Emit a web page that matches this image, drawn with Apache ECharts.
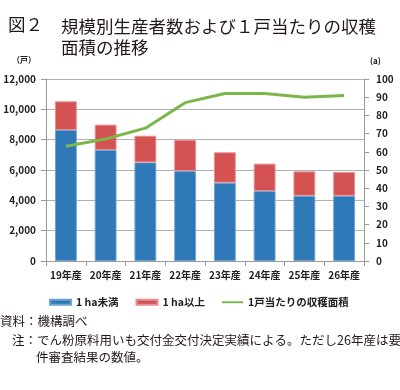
<!DOCTYPE html>
<html><head><meta charset="utf-8">
<script src="https://cdn.jsdelivr.net/npm/echarts@6/dist/echarts.min.js"></script>
<style>html,body{margin:0;padding:0;background:#fff}#c{width:400px;height:390px}</style>
</head><body><div id="c"></div>
<script>
var categories = ['19年産','20年産','21年産','22年産','23年産','24年産','25年産','26年産'];
var under1ha = [8640, 7320, 6500, 5930, 5160, 4610, 4300, 4300];
var over1ha = [1890, 1670, 1760, 2050, 2010, 1810, 1610, 1570];
var areaPerFarm = [63, 67, 73, 87, 92, 92, 90, 91];
var seriesNames = ['1 ha未満', '1 ha以上', '1戸当たりの収穫面積'];

var FONT = '"Noto Sans CJK JP", "Noto Sans", sans-serif';
var chart = echarts.init(document.getElementById('c'), null, {renderer: 'canvas'});
var axisColor = '#9a9a9a';
var labelStyle = {color: '#222', fontSize: 10, fontWeight: 'bold', fontFamily: FONT};
chart.setOption({
  animation: false,
  textStyle: {fontFamily: FONT},
  title: [
    {text: '図２', left: 3, top: 11, textStyle: {fontSize: 17.5, fontWeight: 'normal', color: '#231815', fontFamily: FONT}},
    {text: '規模別生産者数および１戸当たりの収穫\n面積の推移', left: 56, top: 11,
     textStyle: {fontSize: 17.5, fontWeight: 'normal', color: '#231815', lineHeight: 21, fontFamily: FONT}}
  ],
  grid: {left: 46, right: 36, top: 79, bottom: 129, containLabel: false},
  legend: {
    left: 44, top: 292, itemGap: 17, itemWidth: 21, itemHeight: 5,
    textStyle: {fontSize: 10.5, fontWeight: 'bold', color: '#222', fontFamily: FONT},
    data: [{name: seriesNames[0], icon: 'rect'}, {name: seriesNames[1], icon: 'rect'},
           {name: seriesNames[2], icon: 'path://M0,0L24,0L24,2.2L0,2.2Z', itemStyle: {color: '#7ab648'}}]
  },
  xAxis: {
    type: 'category', data: categories,
    axisLine: {lineStyle: {color: axisColor}},
    axisTick: {show: true, length: 5, lineStyle: {color: axisColor}},
    axisLabel: Object.assign({margin: 9, interval: 0}, labelStyle)
  },
  yAxis: [
    {type: 'value', min: 0, max: 12000, interval: 2000,
     axisLine: {show: true, lineStyle: {color: axisColor}},
     axisTick: {show: true, length: 5, lineStyle: {color: axisColor}},
     splitLine: {lineStyle: {color: '#b0b0b0'}},
     axisLabel: Object.assign({margin: 10, formatter: function(v){return v.toString().replace(/\B(?=(\d{3})+(?!\d))/g, ',');}}, labelStyle)},
    {type: 'value', min: 0, max: 100, interval: 10, position: 'right',
     axisLine: {show: true, lineStyle: {color: axisColor}},
     axisTick: {show: true, length: 5, lineStyle: {color: axisColor}},
     splitLine: {show: false},
     axisLabel: Object.assign({margin: 12}, labelStyle)}
  ],
  series: [
    {name: seriesNames[0], type: 'bar', stack: 'a', data: under1ha, barWidth: '55%',
     itemStyle: {color: '#2e78b7', borderColor: '#6fa3d3', borderWidth: 1}},
    {name: seriesNames[1], type: 'bar', stack: 'a', data: over1ha, barWidth: '55%',
     itemStyle: {color: '#d45252', borderColor: '#e89090', borderWidth: 1}},
    {name: seriesNames[2], type: 'line', yAxisIndex: 1, data: areaPerFarm, symbol: 'none', showSymbol: false,
     lineStyle: {color: '#7ab648', width: 3}, itemStyle: {color: '#7ab648'}}
  ],
  graphic: [
    {type: 'text', left: 12, top: 56, style: {text: '（戸）', fill: '#222', font: 'bold 8px ' + FONT}},
    {type: 'text', left: 370, top: 57, style: {text: '(a)', fill: '#222', font: 'bold 8px ' + FONT}},
    {type: 'text', left: 0, top: 315, style: {text: '資料：機構調べ', fill: '#231815', font: '12.5px ' + FONT}},
    {type: 'text', left: 12, top: 334, style: {text: '注：でん粉原料用いも交付金交付決定実績による。ただし26年産は要', fill: '#231815', font: '12.5px ' + FONT}},
    {type: 'text', left: 36, top: 351, style: {text: '件審査結果の数値。', fill: '#231815', font: '12.5px ' + FONT}}
  ]
});
</script></body></html>
